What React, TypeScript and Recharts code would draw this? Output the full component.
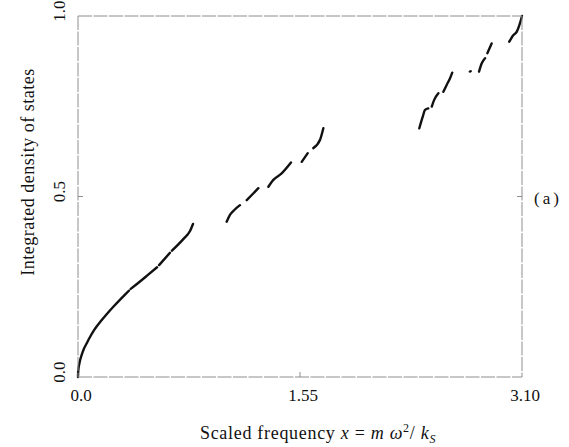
import { LineChart, Line, XAxis, YAxis, Label } from 'recharts';

// scaled frequency (x) and integrated density of states; null marks a gap in the spectrum
const freqX = [
  0, 0.001, 0.002, 0.004, 0.009, 0.015, 0.028, 0.04, 0.062, 0.08, 0.109, 0.13, 0.16, 0.2, 0.25, 0.33, 0.355,
  0.361, 0.368, 0.4, 0.48, 0.552, 0.559, 0.566, 0.642, 0.649, 0.656, 0.74, 0.78, 0.803, 0.92,
  1.038, 1.061, 1.095, 1.131, 1.155, 1.178, 1.22, 1.259, 1.294, 1.329, 1.364, 1.422, 1.487, 1.525,
  1.562, 1.604, 1.623, 1.643, 1.69, 1.713, 2.05,
  2.383, 2.407, 2.423, 2.446, 2.458, 2.47, 2.486, 2.516, 2.533, 2.551, 2.574, 2.597, 2.613, 2.675,
  2.736, 2.742, 2.77, 2.8, 2.819, 2.842, 2.85, 2.858, 2.888, 2.95, 3.011, 3.039, 3.063, 3.086, 3.1,
];
const idosY = [
  0, 0.012, 0.017, 0.025, 0.036, 0.047, 0.064, 0.077, 0.094, 0.108, 0.128, 0.14, 0.155, 0.174, 0.196, 0.229, 0.239,
  null, 0.244, 0.254, 0.28, 0.304, null, 0.31, 0.344, null, 0.35, 0.384, 0.403, 0.424, null,
  0.43, 0.449, 0.464, 0.476, null, 0.49, 0.507, 0.523, null, 0.527, 0.546, 0.564, 0.594, null,
  0.596, 0.62, null, 0.634, 0.657, 0.689, null,
  0.689, 0.721, 0.74, 0.744, null, 0.749, 0.767, 0.786, null, 0.79, 0.809, 0.827, 0.843, null,
  0.846, 0.847, null, 0.846, 0.869, 0.883, null, 0.897, 0.924, null, 0.929, 0.947, 0.956, 0.98, 1.0,
];

const xTicks = [0, 1.55, 3.1];
const xTickLabels = ['0.0', '1.55', '3.10'];
const yTicks = [0, 0.5, 1];
const yTickLabels = ['0.0', '0.5', '1.0'];

const data = freqX.map((x, i) => ({ x, y: idosY[i] }));

const FONT = '"Liberation Serif", "Times New Roman", serif';
const FRAME = '#8e8e8e';
const FRAME_DASH = '14 1.5';

function BottomTick(props: any) {
  const { x, y, payload, index } = props;
  const inner = payload.value > 0 && payload.value < 3.1;
  return (
    <g>
      {inner && <line x1={x} y1={y} x2={x} y2={y - 5} stroke={FRAME} />}
      <text x={x + 3} y={y + 24} textAnchor="middle" fontFamily={FONT} fontSize={17} fill="#111">
        {xTickLabels[index]}
      </text>
    </g>
  );
}

function LeftTick(props: any) {
  const { x, y, payload, index } = props;
  const inner = payload.value > 0 && payload.value < 1;
  const tx = x - 13;
  const ty = y - 5;
  return (
    <g>
      {inner && <line x1={x} y1={y} x2={x + 5} y2={y} stroke={FRAME} />}
      <text
        x={tx}
        y={ty}
        textAnchor="middle"
        transform={`rotate(-90, ${tx}, ${ty})`}
        fontFamily={FONT}
        fontSize={17}
        fill="#111"
      >
        {yTickLabels[index]}
      </text>
    </g>
  );
}

function RightTick(props: any) {
  const { x, y } = props;
  return <line x1={x} y1={y} x2={x - 5} y2={y} stroke={FRAME} />;
}

function XTitle(props: any) {
  const vb = props.viewBox;
  const cx = vb.x + vb.width / 2 + 18;
  const cy = vb.y + 62;
  return (
    <text x={cx} y={cy} textAnchor="middle" fontFamily={FONT} fontSize={18} fill="#111" letterSpacing={0.7}>
      Scaled frequency{' '}
      <tspan fontStyle="italic">x</tspan>
      {'  =  '}
      <tspan fontStyle="italic">m</tspan>
      {' '}
      <tspan fontStyle="italic">ω</tspan>
      <tspan dy={-7} fontSize={12}>2</tspan>
      <tspan dy={7}>{'/  '}</tspan>
      <tspan fontStyle="italic">k</tspan>
      <tspan dy={4} fontSize={12} fontStyle="italic">S</tspan>
    </text>
  );
}

function YTitle(props: any) {
  const vb = props.viewBox;
  const tx = vb.x + 16;
  const ty = vb.y + 156;
  return (
    <text
      x={tx}
      y={ty}
      textAnchor="middle"
      transform={`rotate(-90, ${tx}, ${ty})`}
      fontFamily={FONT}
      fontSize={18}
      fill="#111"
      letterSpacing={0.5}
    >
      Integrated density of states
    </text>
  );
}

function PanelTag(props: any) {
  const vb = props.viewBox;
  return (
    <text
      x={vb.x + 26}
      y={vb.y + vb.height / 2 + 7}
      textAnchor="middle"
      fontFamily={FONT}
      fontSize={17}
      fill="#111"
      letterSpacing={3}
    >
      (a)
    </text>
  );
}

export default function App() {
  return (
    <div style={{ position: 'absolute', left: 0, top: 0, width: 569, height: 447, background: '#fff' }}>
      <LineChart width={569} height={447} data={data} margin={{ top: 15, right: 46, bottom: 40, left: 18 }}>
        <XAxis
          dataKey="x"
          type="number"
          domain={[0, 3.1]}
          ticks={xTicks}
          height={30}
          tickSize={0}
          tickMargin={0}
          tickLine={false}
          axisLine={{ stroke: FRAME, strokeDasharray: FRAME_DASH }}
          tick={<BottomTick />}
          interval={0}
        >
          <Label content={<XTitle />} />
        </XAxis>
        <XAxis
          xAxisId="top"
          dataKey="x"
          orientation="top"
          type="number"
          domain={[0, 3.1]}
          ticks={[1.55]}
          height={1}
          tick={false}
          tickLine={false}
          axisLine={{ stroke: FRAME, strokeDasharray: FRAME_DASH }}
        />
        <YAxis
          type="number"
          domain={[0, 1]}
          ticks={yTicks}
          width={60}
          tickSize={0}
          tickMargin={0}
          tickLine={false}
          axisLine={{ stroke: FRAME, strokeDasharray: FRAME_DASH }}
          tick={<LeftTick />}
          interval={0}
        >
          <Label content={<YTitle />} />
        </YAxis>
        <YAxis
          yAxisId="right"
          orientation="right"
          type="number"
          domain={[0, 1]}
          ticks={[0.5]}
          width={1}
          tickSize={0}
          tickMargin={0}
          tickLine={false}
          axisLine={{ stroke: FRAME, strokeDasharray: FRAME_DASH }}
          tick={<RightTick />}
        >
          <Label content={<PanelTag />} />
        </YAxis>
        <Line
          dataKey="y"
          type="monotone"
          stroke="#111"
          strokeWidth={2.4}
          strokeLinecap="round"
          dot={false}
          connectNulls={false}
          isAnimationActive={false}
        />
        {/* invisible series so the top and right frame axes are drawn */}
        <Line
          xAxisId="top"
          yAxisId="right"
          dataKey="y"
          stroke="none"
          dot={false}
          activeDot={false}
          legendType="none"
          isAnimationActive={false}
        />
      </LineChart>
    </div>
  );
}
